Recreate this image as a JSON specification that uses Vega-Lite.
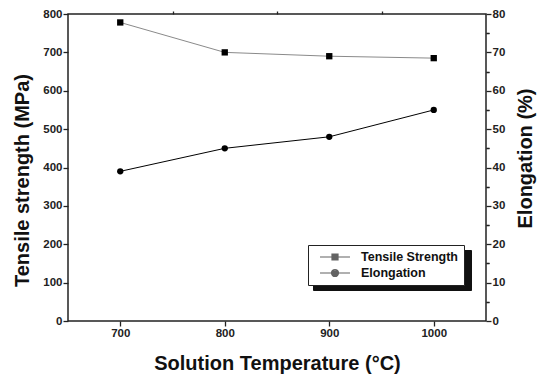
{
  "$schema": "https://vega.github.io/schema/vega-lite/v6.json",
  "width": 418,
  "height": 307,
  "autosize": "none",
  "padding": {"left": 68, "top": 14, "right": 54, "bottom": 57},
  "background": "white",
  "data": {"values": [
    {"temp": 700, "tensile": 778, "elong": 39},
    {"temp": 800, "tensile": 700, "elong": 45},
    {"temp": 900, "tensile": 690, "elong": 48},
    {"temp": 1000, "tensile": 685, "elong": 55}
  ]},
  "config": {
    "view": {"stroke": "#222", "strokeWidth": 1.5},
    "font": "Liberation Sans",
    "axis": {
      "labelFont": "Liberation Sans", "labelFontWeight": "bold", "labelFontSize": 11.5, "labelColor": "#222",
      "titleFont": "Liberation Sans", "titleFontWeight": "bold", "titleFontSize": 20, "titleColor": "#111",
      "domain": false, "grid": false
    }
  },
  "layer": [
    {
      "mark": {"type": "line", "color": "#8a8a8a", "strokeWidth": 1},
      "encoding": {
        "x": {"field": "temp", "type": "quantitative", "scale": {"domain": [650, 1050], "nice": false},
              "axis": {"values": [700, 800, 900, 1000], "format": "d", "ticks": true, "tickColor": "#222", "tickWidth": 1.3, "tickSize": 5, "labelPadding": 1, "title": "Solution Temperature (°C)", "titlePadding": 15}},
        "y": {"field": "tensile", "type": "quantitative", "scale": {"domain": [0, 800], "nice": false},
              "axis": {"values": [0, 100, 200, 300, 400, 500, 600, 700, 800], "ticks": true, "tickColor": "#222", "tickWidth": 1.3, "tickSize": 5, "labelPadding": 1, "title": "Tensile strength (MPa)", "titlePadding": 10, "titleY": 166}}
      }
    },
    {
      "mark": {"type": "point", "shape": "square", "filled": true, "color": "black", "opacity": 1, "size": 40},
      "encoding": {
        "x": {"field": "temp", "type": "quantitative", "scale": {"domain": [650, 1050], "nice": false},
              "axis": {"values": [750, 850, 950], "ticks": true, "tickColor": "#222", "tickWidth": 1.3, "tickSize": 3, "labels": false, "title": null}},
        "y": {"field": "tensile", "type": "quantitative", "scale": {"domain": [0, 800], "nice": false},
              "axis": {"values": [50, 150, 250, 350, 450, 550, 650, 750], "ticks": true, "tickColor": "#222", "tickWidth": 1.3, "tickSize": 3, "labels": false, "title": null}}
      }
    },
    {
      "mark": {"type": "line", "color": "black", "strokeWidth": 1},
      "encoding": {
        "x": {"field": "temp", "type": "quantitative", "scale": {"domain": [650, 1050], "nice": false}, "axis": null},
        "y": {"field": "elong", "type": "quantitative", "scale": {"domain": [0, 80], "nice": false},
              "axis": {"orient": "right", "values": [0, 10, 20, 30, 40, 50, 60, 70, 80], "ticks": true, "tickColor": "#222", "tickWidth": 1.3, "tickSize": 5, "labelPadding": 1, "title": "Elongation (%)", "titleAngle": 270, "titleBaseline": "top", "titlePadding": 11, "titleY": 144}}
      }
    },
    {
      "mark": {"type": "point", "shape": "circle", "filled": true, "color": "black", "opacity": 1, "size": 40},
      "encoding": {
        "x": {"field": "temp", "type": "quantitative", "scale": {"domain": [650, 1050], "nice": false}, "axis": null},
        "y": {"field": "elong", "type": "quantitative", "scale": {"domain": [0, 80], "nice": false},
              "axis": {"orient": "right", "values": [5, 15, 25, 35, 45, 55, 65, 75], "ticks": true, "tickColor": "#222", "tickWidth": 1.3, "tickSize": 3, "labels": false, "title": null}}
      }
    },
    {
      "mark": {"type": "point", "filled": false, "color": "black", "strokeWidth": 1.2, "size": 0},
      "encoding": {
        "x": {"field": "temp", "type": "quantitative", "scale": {"domain": [650, 1050], "nice": false}, "axis": null},
        "y": {"field": "elong", "type": "quantitative", "scale": {"domain": [0, 80], "nice": false}, "axis": null},
        "shape": {"datum": "Tensile Strength", "type": "nominal",
                  "scale": {"domain": ["Tensile Strength", "Elongation"],
                            "range": ["M-0.714,0H0.714M-0.143,-0.143H0.143V0.143H-0.143ZM-0.143,-0.095H0.143M-0.143,-0.048H0.143M-0.143,0.048H0.143M-0.143,0.095H0.143",
                                      "M-0.714,0H0.714M0.167,0A0.167,0.167 0 1,1 -0.167,0A0.167,0.167 0 1,1 0.167,0ZM0.119,0A0.119,0.119 0 1,1 -0.119,0A0.119,0.119 0 1,1 0.119,0ZM0.071,0A0.071,0.071 0 1,1 -0.071,0A0.071,0.071 0 1,1 0.071,0ZM0.024,0A0.024,0.024 0 1,1 -0.024,0A0.024,0.024 0 1,1 0.024,0Z"]},
                  "legend": {
                    "title": null, "orient": "none", "legendX": 240, "legendY": 231, "zindex": 2,
                    "fillColor": "white", "strokeColor": "#222", "padding": 5,
                    "labelFont": "Liberation Sans", "labelFontWeight": "bold", "labelFontSize": 12.5, "labelColor": "#111", "labelOffset": 4,
                    "symbolSize": 1764, "clipHeight": 14, "rowPadding": 2, "symbolStrokeWidth": 1.2, "symbolStrokeColor": "#222", "symbolFillColor": "black"
                  }},
        "color": {"datum": "s1", "type": "nominal",
                  "scale": {"domain": ["s1", "s2"], "range": ["#111", "#111"]},
                  "legend": {
                    "title": null, "orient": "none", "legendX": 245, "legendY": 236, "zindex": 1,
                    "fillColor": "#111", "strokeColor": "#111", "padding": 5,
                    "labelExpr": "''",
                    "labelFontSize": 1, "labelOffset": 0, "labelColor": "#111",
                    "symbolType": "M-1,0H1", "symbolSize": 21609, "clipHeight": 14, "rowPadding": 2, "symbolStrokeWidth": 1, "symbolFillColor": "#111", "symbolStrokeColor": "#111", "symbolOpacity": 1
                  }}
      }
    },
    {
      "mark": {"type": "point", "filled": false, "color": "black", "strokeWidth": 1.2, "size": 0},
      "encoding": {
        "x": {"field": "temp", "type": "quantitative", "scale": {"domain": [650, 1050], "nice": false}, "axis": null},
        "y": {"field": "elong", "type": "quantitative", "scale": {"domain": [0, 80], "nice": false}, "axis": null},
        "shape": {"datum": "Elongation", "type": "nominal"},
        "color": {"datum": "s2", "type": "nominal"}
      }
    }
  ],
  "resolve": {"scale": {"x": "independent", "y": "independent"}, "axis": {"x": "independent", "y": "independent"}}
}
